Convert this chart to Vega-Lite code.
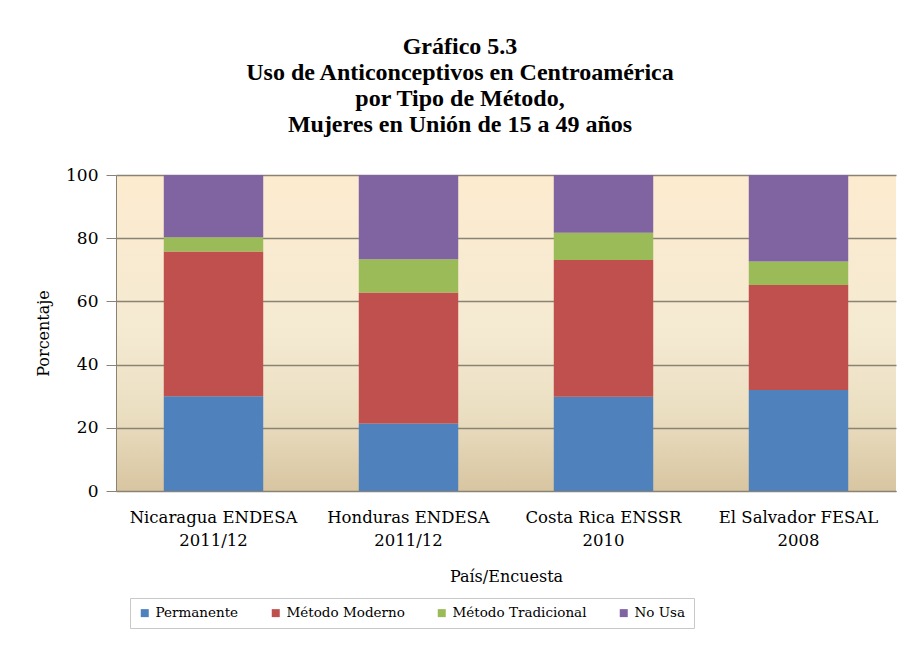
{
  "$schema": "https://vega.github.io/schema/vega-lite/v6.json",
  "width": 780,
  "height": 316,
  "autosize": {"type": "none"},
  "padding": {"left": 116, "top": 175, "right": 27, "bottom": 178},
  "background": "white",
  "title": {
    "text": ["Gráfico 5.3", "Uso de Anticonceptivos en Centroamérica", "por Tipo de Método,", "Mujeres en Unión de 15 a 49 años"],
    "font": "Liberation Serif",
    "fontSize": 24,
    "fontWeight": "bold",
    "lineHeight": 26,
    "color": "#000000",
    "anchor": "middle",
    "dx": -46,
    "offset": 29
  },
  "data": {
    "values": [
      {"pais": "Nicaragua ENDESA|2011/12", "tipo": "Permanente", "k": 1, "valor": 30.0},
      {"pais": "Nicaragua ENDESA|2011/12", "tipo": "Método Moderno", "k": 2, "valor": 45.8},
      {"pais": "Nicaragua ENDESA|2011/12", "tipo": "Método Tradicional", "k": 3, "valor": 4.5},
      {"pais": "Nicaragua ENDESA|2011/12", "tipo": "No Usa", "k": 4, "valor": 19.7},
      {"pais": "Honduras ENDESA|2011/12", "tipo": "Permanente", "k": 1, "valor": 21.4},
      {"pais": "Honduras ENDESA|2011/12", "tipo": "Método Moderno", "k": 2, "valor": 41.4},
      {"pais": "Honduras ENDESA|2011/12", "tipo": "Método Tradicional", "k": 3, "valor": 10.5},
      {"pais": "Honduras ENDESA|2011/12", "tipo": "No Usa", "k": 4, "valor": 26.7},
      {"pais": "Costa Rica ENSSR|2010", "tipo": "Permanente", "k": 1, "valor": 29.8},
      {"pais": "Costa Rica ENSSR|2010", "tipo": "Método Moderno", "k": 2, "valor": 43.3},
      {"pais": "Costa Rica ENSSR|2010", "tipo": "Método Tradicional", "k": 3, "valor": 8.6},
      {"pais": "Costa Rica ENSSR|2010", "tipo": "No Usa", "k": 4, "valor": 18.3},
      {"pais": "El Salvador FESAL|2008", "tipo": "Permanente", "k": 1, "valor": 32.0},
      {"pais": "El Salvador FESAL|2008", "tipo": "Método Moderno", "k": 2, "valor": 33.2},
      {"pais": "El Salvador FESAL|2008", "tipo": "Método Tradicional", "k": 3, "valor": 7.4},
      {"pais": "El Salvador FESAL|2008", "tipo": "No Usa", "k": 4, "valor": 27.4}
    ]
  },
  "mark": {"type": "bar"},
  "encoding": {
    "x": {
      "field": "pais",
      "type": "nominal",
      "sort": null,
      "title": "País/Encuesta",
      "scale": {"paddingInner": 0.49, "paddingOuter": 0.245},
      "axis": {
        "labelExpr": "split(datum.label, '|')",
        "labelAngle": 0,
        "labelFont": "DejaVu Serif",
        "labelFontSize": 16.5,
        "labelColor": "#000000",
        "labelLineHeight": 23,
        "labelPadding": 18,
        "ticks": false,
        "domainColor": "#8a8272",
        "titleFont": "DejaVu Serif",
        "titleFontSize": 16,
        "titleFontWeight": "normal",
        "titleColor": "#000000",
        "titlePadding": 20
      }
    },
    "y": {
      "field": "valor",
      "type": "quantitative",
      "stack": "zero",
      "title": "Porcentaje",
      "scale": {"domain": [0, 100]},
      "axis": {
        "values": [0, 20, 40, 60, 80, 100],
        "labelFont": "DejaVu Serif",
        "labelFontSize": 17,
        "labelColor": "#000000",
        "labelPadding": 8,
        "tickColor": "#8a8272",
        "tickSize": 10,
        "domainColor": "#8a8272",
        "gridColor": "#8a8272",
        "gridWidth": 1.5,
        "titleFont": "DejaVu Serif",
        "titleFontSize": 16,
        "titleFontWeight": "normal",
        "titleColor": "#000000",
        "titlePadding": 14
      }
    },
    "color": {
      "field": "tipo",
      "type": "nominal",
      "scale": {
        "domain": ["Permanente", "Método Moderno", "Método Tradicional", "No Usa"],
        "range": ["#4f81bd", "#c0504d", "#9bbb59", "#8064a2"]
      },
      "legend": {
        "title": null,
        "orient": "none",
        "legendX": 14,
        "legendY": 423,
        "direction": "horizontal",
        "symbolType": "square",
        "symbolSize": 64,
        "symbolStrokeWidth": 0,
        "labelFont": "DejaVu Serif",
        "labelFontSize": 13.5,
        "labelColor": "#000000",
        "columnPadding": 30,
        "padding": 8,
        "strokeColor": "#c8c8c8",
        "labelLimit": 300
      }
    },
    "order": {"field": "k", "type": "quantitative"}
  },
  "config": {
    "view": {
      "stroke": null,
      "fill": {
        "gradient": "linear",
        "x1": 0, "y1": 0, "x2": 0, "y2": 1,
        "stops": [
          {"offset": 0, "color": "#fdebcf"},
          {"offset": 0.5, "color": "#f4ead2"},
          {"offset": 0.75, "color": "#ebdfc2"},
          {"offset": 1, "color": "#d8c5a1"}
        ]
      }
    }
  }
}
